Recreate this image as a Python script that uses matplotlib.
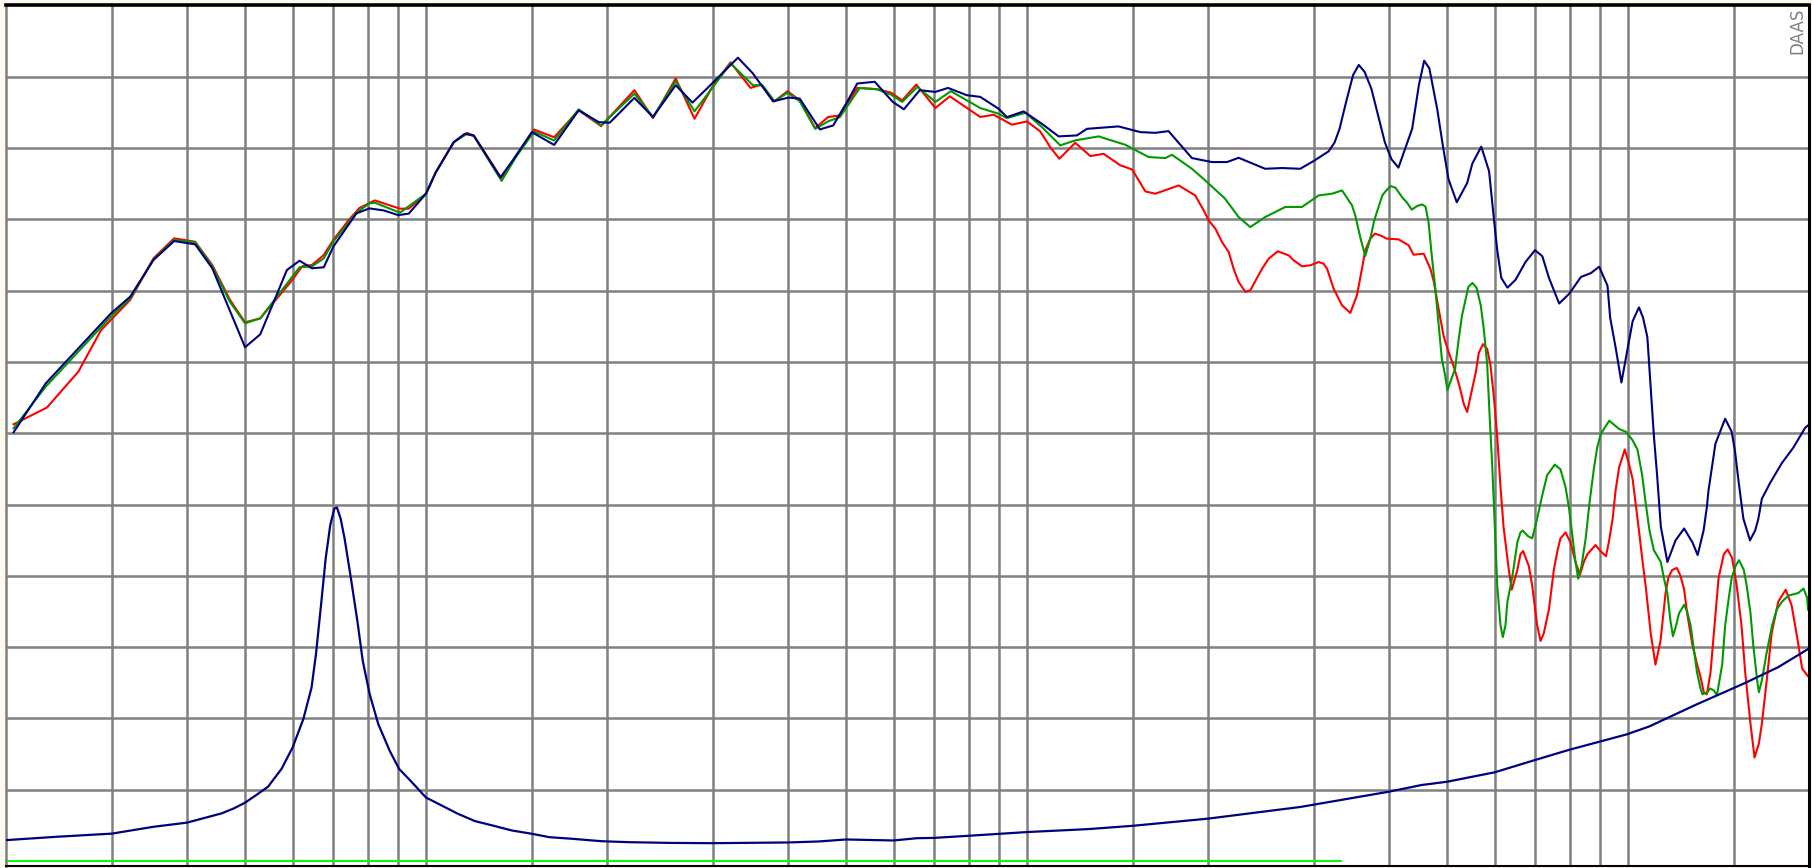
import numpy as np
import matplotlib
matplotlib.use("Agg")
import matplotlib.pyplot as plt

# frequency response curves, (Hz, dB)
red_curve = [
    (20.6, 70.63), (23.4, 71.8), (26.4, 74.32), (28.8, 77.24), (32.2, 79.35), (35.2, 82.27),
    (38.1, 83.67), (41.3, 83.43), (44.1, 81.8), (47.2, 79.35), (50.0, 77.78), (53.0, 78.06),
    (59.6, 80.63), (62.3, 81.73), (64.6, 81.8), (67.6, 82.5), (70.1, 83.55), (74.3, 84.93),
    (77.5, 85.8), (82.2, 86.33), (90.5, 85.75), (93.6, 85.75), (100, 86.8), (103.8, 88.29),
    (111.2, 90.41), (117, 91.07), (120.1, 90.88), (133.6, 87.87), (141.3, 89.47), (151.3, 91.3),
    (163.4, 90.76), (179.5, 92.65), (195.6, 91.54), (222.2, 94.06), (238.6, 92.1), (260.3, 94.88),
    (279.8, 92.06), (299.5, 94.29), (321.1, 96.01), (346.8, 94.22), (361.7, 94.46), (379.9, 93.28),
    (399.6, 93.99), (418.7, 93.35), (444.2, 91.4), (466.8, 92.18), (488.5, 92.29), (522, 94.22),
    (562.3, 94.13), (594, 93.89), (620, 93.35), (654.5, 94.46), (704, 92.81), (744, 93.63),
    (836, 92.18), (880, 92.34), (944, 91.64), (1000, 91.87), (1052, 91.17), (1093, 90.07),
    (1132, 89.25), (1203, 90.37), (1275, 89.44), (1341, 89.6), (1430, 88.79), (1496, 88.5),
    (1574, 86.96), (1635, 86.8), (1788, 87.38), (1905, 86.68), (1968, 85.63), (2006, 84.93),
    (2058, 84.35), (2111, 83.41), (2166, 82.71), (2207, 81.54), (2250, 80.61), (2309, 79.91),
    (2353, 80.03), (2461, 81.54), (2524, 82.24), (2614, 82.76), (2725, 82.48), (2778, 82.13),
    (2868, 81.71), (2961, 81.78), (3057, 82.01), (3116, 81.89), (3157, 81.54), (3238, 80.14),
    (3280, 79.67), (3343, 78.97), (3451, 78.44), (3540, 79.67), (3609, 81.54), (3655, 82.83),
    (3726, 83.65), (3793, 84.0), (3897, 83.83), (3964, 83.65), (4152, 83.6), (4316, 83.18),
    (4397, 82.52), (4573, 82.59), (4690, 81.54), (4753, 80.62), (4840, 78.74), (4938, 76.75),
    (5034, 75.64), (5131, 74.67), (5234, 73.43), (5332, 72.04), (5400, 71.49), (5470, 72.59),
    (5581, 74.26), (5647, 75.64), (5738, 76.25), (5830, 75.92), (5903, 74.81), (5981, 72.59),
    (6058, 69.83), (6136, 66.23), (6207, 63.46), (6335, 60.41), (6406, 59.03), (6545, 60.41),
    (6624, 61.52), (6690, 61.74), (6839, 60.69), (6929, 59.3), (7061, 56.53), (7154, 55.43),
    (7244, 55.98), (7387, 57.64), (7527, 60.41), (7636, 61.8), (7721, 62.63), (7872, 63.04),
    (8023, 62.35), (8178, 60.97), (8320, 60.08), (8444, 60.97), (8560, 61.52), (8830, 62.16),
    (9000, 61.74), (9190, 61.38), (9292, 62.35), (9430, 64.01), (9533, 65.95), (9667, 67.61),
    (9880, 68.86), (10032, 67.89), (10180, 66.78), (10430, 63.18), (10558, 61.24), (10700, 59.3),
    (10910, 55.98), (11110, 53.77), (11326, 55.43), (11546, 58.75), (11670, 59.86), (11844, 60.41),
    (12060, 60.55), (12229, 60.0), (12400, 59.03), (12545, 57.37), (12800, 55.15), (13035, 53.77),
    (13200, 52.94), (13373, 51.83), (13530, 51.69), (13718, 53.21), (13895, 55.98), (14150, 59.86),
    (14437, 61.52), (14650, 61.85), (14905, 61.24), (15170, 59.3), (15448, 56.53), (15670, 53.21),
    (15991, 49.61), (16240, 47.26), (16509, 48.23), (16700, 49.61), (17044, 52.94), (17340, 55.98),
    (17790, 58.2), (18300, 59.03), (18720, 57.92), (19120, 55.7), (19491, 53.49), (19830, 53.07),
    (20000, 52.9),
]

green_curve = [
    (20.6, 70.35), (23.3, 73.27), (29.9, 78.18), (32.2, 79.46), (35.2, 82.2), (38.1, 83.55),
    (41.3, 83.39), (44.1, 81.7), (47.2, 79.2), (50.0, 77.71), (53.0, 78.06), (61.6, 81.64),
    (64.6, 81.7), (67.6, 82.27), (70.1, 83.43), (76.6, 85.47), (80.5, 86.12), (82.2, 86.17),
    (90.5, 85.47), (100, 86.8), (103.8, 88.29), (111.2, 90.41), (117, 91.0), (120.1, 90.85),
    (133.6, 87.7), (141.3, 89.4), (151.3, 91.16), (163.4, 90.53), (179.5, 92.72), (195.6, 91.59),
    (222.2, 93.82), (238.6, 92.18), (260.3, 94.69), (279.8, 92.58), (299.5, 94.22), (321.1, 95.94),
    (349.8, 94.41), (362.9, 94.41), (379.9, 93.28), (399.6, 93.89), (418.7, 93.28), (444.2, 91.35),
    (466.8, 91.87), (488.5, 92.18), (527, 94.22), (562.3, 94.13), (594, 93.75), (620, 93.24),
    (657, 94.29), (704, 93.24), (747, 93.99), (836, 92.81), (897, 92.41), (926, 92.1),
    (994, 92.48), (1059, 91.47), (1136, 90.19), (1203, 90.54), (1316, 90.82), (1458, 90.23),
    (1594, 89.37), (1699, 89.3), (1743, 89.53), (1881, 88.55), (1980, 87.73), (2136, 86.45),
    (2250, 85.16), (2352, 84.46), (2490, 85.16), (2690, 85.87), (2868, 85.87), (3057, 86.68),
    (3217, 86.8), (3344, 87.03), (3474, 85.98), (3517, 85.28), (3590, 83.65), (3655, 82.43),
    (3726, 83.65), (3777, 84.81), (3806, 85.28), (3902, 86.68), (3942, 86.92), (4024, 87.34),
    (4103, 87.22), (4206, 86.57), (4291, 86.16), (4367, 85.68), (4459, 85.94), (4544, 86.05),
    (4604, 85.89), (4657, 84.81), (4715, 82.48), (4780, 80.14), (4837, 77.81), (4900, 75.24),
    (4962, 74.07), (5007, 73.02), (5047, 73.43), (5157, 74.54), (5221, 76.4), (5295, 78.27),
    (5356, 79.21), (5425, 80.26), (5510, 80.54), (5597, 80.21), (5690, 78.96), (5756, 77.3),
    (5831, 74.81), (5890, 70.93), (5946, 67.61), (6004, 63.46), (6060, 59.3), (6136, 56.53),
    (6190, 55.7), (6254, 56.53), (6301, 58.2), (6416, 59.86), (6545, 62.35), (6624, 63.04),
    (6680, 63.18), (6822, 62.77), (6929, 62.63), (7061, 64.01), (7202, 65.67), (7337, 67.06),
    (7554, 67.8), (7721, 67.47), (7872, 66.23), (7972, 64.84), (8077, 62.9), (8178, 60.97),
    (8264, 59.8), (8369, 60.69), (8504, 62.63), (8629, 65.12), (8782, 67.61), (8886, 68.99),
    (9012, 69.96), (9306, 70.88), (9667, 70.3), (9922, 70.1), (10162, 69.55), (10370, 68.86),
    (10558, 67.06), (10700, 65.12), (10859, 63.18), (11041, 61.8), (11340, 60.97), (11472, 59.86),
    (11630, 58.75), (11770, 56.81), (11880, 55.76), (12027, 56.53), (12160, 57.37), (12400, 57.97),
    (12545, 57.5), (12710, 56.53), (12869, 54.87), (13030, 53.21), (13203, 52.1), (13300, 51.69),
    (13544, 51.83), (13700, 52.1), (13895, 51.97), (14060, 51.63), (14346, 53.77), (14510, 56.53),
    (14716, 58.47), (14880, 59.86), (15098, 60.69), (15300, 61.1), (15587, 60.41), (15760, 59.3),
    (15991, 57.37), (16160, 55.15), (16404, 52.66), (16510, 51.83), (16700, 52.66), (17010, 54.6),
    (17374, 56.53), (17680, 57.64), (18052, 58.2), (18490, 58.61), (19210, 58.8), (19590, 59.11),
    (19867, 58.47), (19930, 57.64),
]

blue_curve = [
    (20.6, 70.07), (23.3, 73.5), (29.9, 78.4), (32.2, 79.58), (35.2, 82.15), (38.1, 83.48),
    (41.3, 83.25), (44.1, 81.57), (50.0, 76.03), (53.0, 76.94), (58.7, 81.45), (61.6, 82.1),
    (64.6, 81.57), (67.6, 81.64), (70.1, 83.08), (76.6, 85.42), (80.5, 85.77), (85.0, 85.63),
    (89.9, 85.3), (93.6, 85.4), (100, 86.8), (103.8, 88.29), (111.2, 90.41), (116, 91.0),
    (120.1, 90.88), (133, 87.94), (140, 89.24), (150, 91.12), (163.4, 90.22), (179.5, 92.65),
    (193.9, 91.82), (202.2, 91.78), (222.2, 93.52), (238.6, 92.18), (260.3, 94.41), (277.6, 93.19),
    (293.5, 94.18), (330.4, 96.34), (349.8, 95.24), (378, 93.28), (401, 93.54), (418.7, 93.47),
    (452.3, 91.31), (476, 91.59), (502, 93.24), (522, 94.53), (558, 94.65), (598, 93.24),
    (624, 92.72), (663, 94.06), (704, 93.94), (739, 94.22), (794, 93.71), (836, 93.59),
    (897, 92.76), (926, 92.17), (987, 92.57), (1059, 91.7), (1129, 90.82), (1211, 90.89),
    (1258, 91.35), (1420, 91.52), (1544, 91.12), (1635, 91.07), (1720, 91.19), (1881, 89.3),
    (2031, 89.02), (2152, 89.02), (2250, 89.32), (2490, 88.55), (2655, 88.6), (2849, 88.55),
    (2998, 89.09), (3176, 89.77), (3250, 90.4), (3312, 91.35), (3396, 93.23), (3488, 95.12),
    (3565, 95.83), (3645, 95.35), (3741, 94.17), (3839, 92.29), (3940, 90.4), (4041, 89.22),
    (4150, 88.63), (4374, 91.35), (4488, 94.41), (4580, 96.13), (4672, 95.59), (4814, 92.76),
    (4920, 90.17), (5028, 87.81), (5190, 86.2), (5400, 87.55), (5510, 88.93), (5700, 90.1),
    (5873, 88.38), (5982, 85.06), (6060, 82.84), (6154, 80.9), (6301, 80.21), (6500, 80.76),
    (6750, 82.0), (7003, 82.84), (7202, 82.42), (7387, 80.9), (7682, 79.1), (7986, 79.79),
    (8350, 80.96), (8674, 81.23), (8954, 81.68), (9245, 80.35), (9339, 78.13), (9546, 75.92),
    (9752, 73.56), (9930, 75.36), (10180, 77.86), (10430, 78.83), (10590, 78.13), (10770, 76.75),
    (11043, 69.83), (11180, 67.06), (11340, 63.46), (11630, 60.97), (12000, 62.49), (12400, 63.32),
    (12800, 62.35), (13060, 61.46), (13360, 63.18), (13530, 64.84), (13610, 65.95), (13980, 69.27),
    (14510, 71.02), (14880, 70.1), (15070, 68.72), (15260, 66.78), (15560, 64.01), (15960, 62.49),
    (16280, 63.18), (16480, 64.01), (16700, 65.4), (17230, 66.5), (18020, 67.89), (18840, 68.99),
    (19710, 70.38), (20000, 70.6),
]

# impedance curve, (Hz, ohm)
impedance = [
    (20.1, 1.47), (24.3, 1.7), (30, 1.92), (35.2, 2.4), (40, 2.69), (45.7, 3.34), (47.9, 3.69),
    (50, 4.09), (52.2, 4.63), (54.6, 5.21), (56.2, 5.91), (57.5, 6.46), (60, 7.97), (62.5, 9.95),
    (64.5, 12.16), (65.6, 14.49), (66.9, 17.98), (68.1, 21.23), (69.3, 23.56), (70.4, 24.72),
    (71.1, 24.79), (72.1, 24.02), (73.2, 22.63), (75.0, 19.84), (76.9, 16.81), (78.5, 14.02),
    (80.6, 11.7), (83.3, 9.6), (87.0, 7.74), (90.2, 6.46), (94.0, 5.68), (100, 4.45),
    (106.8, 3.84), (112.9, 3.32), (120.6, 2.8), (128.8, 2.5), (139, 2.14), (150, 1.91),
    (160.5, 1.67), (175, 1.56), (195.6, 1.39), (218, 1.32), (254.9, 1.27), (300, 1.25),
    (400, 1.3), (450, 1.37), (500, 1.51), (600, 1.44), (656, 1.6), (700, 1.62), (800, 1.77),
    (1000, 2.03), (1267, 2.24), (1500, 2.47), (2000, 2.97), (2850, 3.79), (4000, 4.86),
    (4535, 5.33), (5000, 5.56), (6000, 6.22), (7000, 7.08), (8000, 7.81), (9930, 8.87),
    (10840, 9.43), (12970, 10.96), (15670, 12.49), (17790, 13.6), (20000, 14.9),
]

grid_freqs = [30, 40, 50, 60, 70, 80, 90, 100, 150, 200, 300, 400, 500, 600, 700, 800, 900,
              1000, 1500, 2000, 3000, 4000, 5000, 6000, 7000, 8000, 9000, 10000, 15000]
grid_levels = [45, 50, 55, 60, 65, 70, 75, 80, 85, 90, 95]
marker_span = (20, 3330)   # bright green line along the bottom

W, H = 1812, 868
fig = plt.figure(figsize=(W / 100, H / 100), dpi=100, facecolor="#FFFAF0")
ax = fig.add_axes([5.9 / W, 2.5 / H, 1803 / W, 860 / H])
ax.set_facecolor("white")
ax.set_xscale("log")
ax.set_xlim(20, 20000)
ax.set_ylim(39.685, 100)

ax.set_xticks(grid_freqs)
ax.set_xticks([], minor=True)
ax.set_yticks(grid_levels)
ax.tick_params(which="both", length=0, labelbottom=False, labelleft=False)
ax.grid(True, color="#808080", linewidth=1.8)
ax.set_axisbelow(True)

for name, sp in ax.spines.items():
    sp.set_color("black")
ax.spines["left"].set_color("#808080")
ax.spines["left"].set_linewidth(1.8)
ax.spines["top"].set_linewidth(2.6)
ax.spines["right"].set_linewidth(2.2)
ax.spines["bottom"].set_linewidth(1.5)

ax.plot(marker_span, [40, 40], color="#00FF00", linewidth=1.4, clip_on=False)

for data, col in [(red_curve, "#FF0000"), (green_curve, "#009900"), (blue_curve, "#000080")]:
    f, db = np.array(data).T
    ax.plot(f, db, color=col, linewidth=1.5)

ax2 = ax.twinx()
ax2.set_ylim(-0.315, 60)
ax2.set_yticks([])
for sp in ax2.spines.values():
    sp.set_visible(False)
zf, zv = np.array(impedance).T
ax2.plot(zf, zv, color="#000080", linewidth=1.6)

ax.text(0.9984, 0.997, "DAAS", transform=ax.transAxes, rotation=90, ha="right", va="top",
        color="#808080", fontsize=12)

fig.savefig("out.png", dpi=100, facecolor=fig.get_facecolor())
